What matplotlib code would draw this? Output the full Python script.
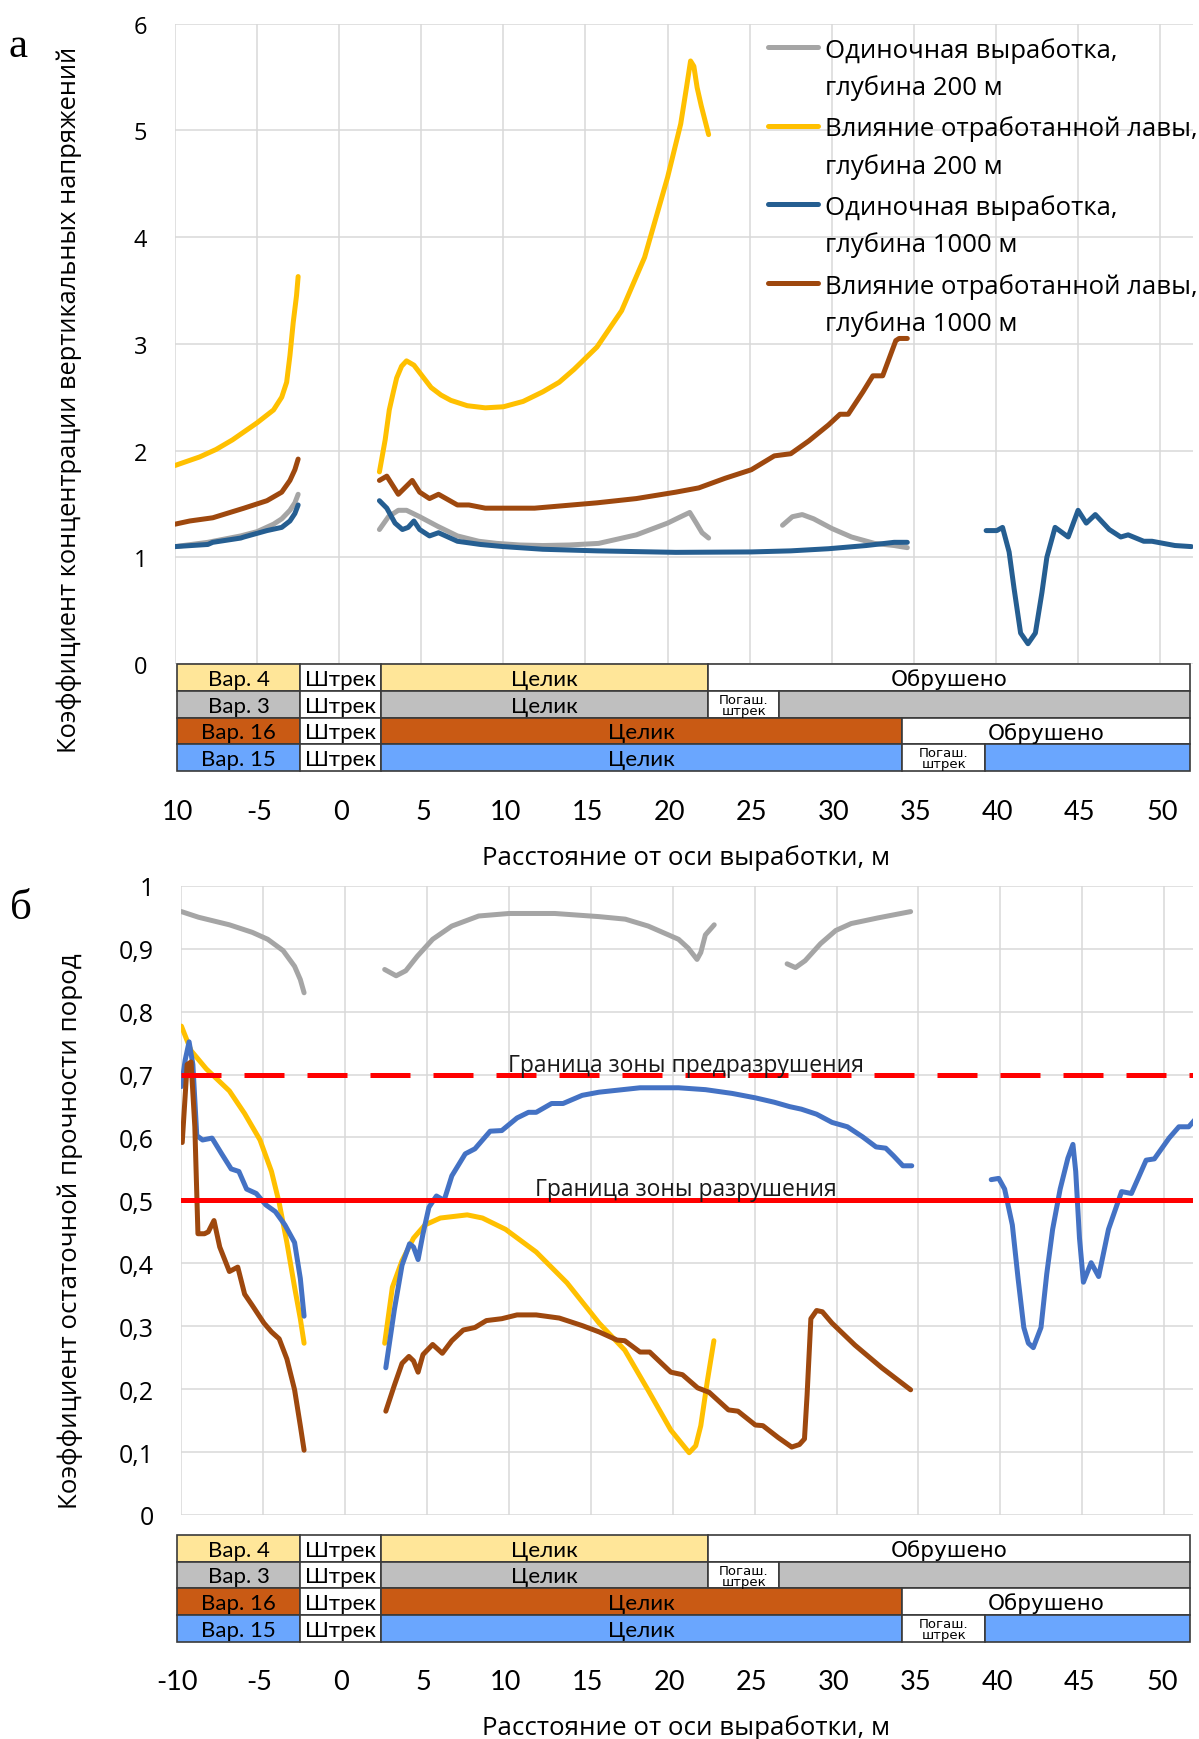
import numpy as np
import matplotlib
matplotlib.use("Agg")
import matplotlib.pyplot as plt
from matplotlib.lines import Line2D
from matplotlib.patches import Rectangle

W, H = 1199, 1740
GAP = np.nan

# ---------- panel a: stress concentration factor ----------
a_gray_x = [-10, -8, -6, -5, -4, -3.5, -3, -2.7, -2.5, GAP,
            2.45, 3.0, 3.6, 4.1, 4.9, 6.0, 7.2, 8.5, 9.6, 11, 12.4, 14, 15.8, 18.1, 20, 20.8, 21.35,
            21.75, 22.1, 22.5, GAP,
            27.0, 27.6, 28.2, 28.9, 30.0, 31.2, 32.6, 33.8, 34.6]
a_gray_y = [1.10, 1.14, 1.20, 1.24, 1.31, 1.36, 1.44, 1.51, 1.59, GAP,
            1.26, 1.38, 1.44, 1.44, 1.38, 1.29, 1.20, 1.15, 1.13, 1.115, 1.11, 1.115, 1.13, 1.21, 1.32,
            1.38, 1.42, 1.32, 1.23, 1.18, GAP,
            1.30, 1.38, 1.40, 1.36, 1.27, 1.19, 1.13, 1.11, 1.09]

a_yellow_x = [-10, -8.5, -7.5, -6.5, -5, -4, -3.5, -3.2, -3.0, -2.8, -2.6, -2.5, GAP,
              2.45, 2.8, 3.05, 3.3, 3.5, 3.8, 4.1, 4.55, 5.0, 5.6, 6.2, 6.8, 7.8, 8.9, 10.0, 11.2,
              12.4, 13.4, 14.3, 15.7, 17.2, 18.6, 20.0, 20.8, 21.15, 21.4, 21.6, 21.8, 22.05, 22.5]
a_yellow_y = [1.86, 1.94, 2.01, 2.10, 2.26, 2.38, 2.50, 2.64, 2.89, 3.20, 3.45, 3.63, GAP,
              1.80, 2.10, 2.38, 2.55, 2.68, 2.79, 2.84, 2.80, 2.71, 2.59, 2.52, 2.47, 2.42, 2.40,
              2.41, 2.46, 2.55, 2.64, 2.76, 2.97, 3.31, 3.81, 4.56, 5.06, 5.40, 5.65, 5.60, 5.40,
              5.23, 4.96]

a_blue_x = [-10, -8, -7.7, -6, -5.8, -4.4, -3.5, -3.0, -2.7, -2.5, GAP,
            2.45, 2.9, 3.4, 3.85, 4.2, 4.55, 4.9, 5.5, 6.05, 7.2, 8.6, 10.0, 12.4, 15.7, 20.5, 25.1,
            27.5, 29.8, 32.1, 33.8, 34.6, GAP,
            39.4, 40.05, 40.4, 40.8, 41.1, 41.5, 41.95, 42.4, 42.8, 43.1, 43.6, 44.4, 45.0, 45.5,
            46.05, 46.9, 47.6, 48.05, 49.0, 49.5, 50.9, 51.9]
a_blue_y = [1.10, 1.12, 1.14, 1.18, 1.19, 1.25, 1.28, 1.34, 1.41, 1.49, GAP,
            1.53, 1.46, 1.32, 1.26, 1.28, 1.34, 1.26, 1.20, 1.23, 1.15, 1.12, 1.10, 1.075, 1.06,
            1.046, 1.05, 1.06, 1.08, 1.11, 1.14, 1.14, GAP,
            1.25, 1.25, 1.28, 1.05, 0.71, 0.29, 0.19, 0.29, 0.67, 1.00, 1.28, 1.19, 1.44, 1.32,
            1.40, 1.26, 1.19, 1.21, 1.15, 1.15, 1.11, 1.10]

a_brown_x = [-10, -9.1, -7.7, -5.8, -4.4, -3.5, -3.0, -2.7, -2.5, GAP,
             2.45, 2.9, 3.6, 4.45, 4.9, 5.5, 6.05, 7.2, 7.9, 8.9, 11.9, 15.7, 18.1, 20.5, 21.9,
             23.5, 25.1, 26.5, 27.5, 28.6, 29.8, 30.5, 31.0, 31.9, 32.5, 33.1, 33.9, 34.1, 34.6]
a_brown_y = [1.31, 1.34, 1.37, 1.46, 1.53, 1.61, 1.72, 1.82, 1.92, GAP,
             1.72, 1.76, 1.59, 1.72, 1.61, 1.55, 1.59, 1.49, 1.49, 1.46, 1.46, 1.51, 1.55, 1.61,
             1.65, 1.74, 1.82, 1.95, 1.97, 2.09, 2.24, 2.34, 2.34, 2.55, 2.70, 2.70, 3.03, 3.05,
             3.05]

# ---------- panel b: residual strength factor ----------
b_gray_x = [-10, -8.95, -7.07, -5.67, -4.73, -3.79, -3.09, -2.74, -2.51, GAP,
            2.41, 3.11, 3.7, 4.4, 5.34, 6.51, 8.15, 10.0, 12.8, 15.5, 17.1, 18.5, 20.35, 20.94,
            21.48, 21.71, 21.99, 22.53, GAP,
            26.98, 27.49, 28.08, 29.02, 29.95, 30.89, 32.53, 34.52]
b_gray_y = [0.959, 0.950, 0.938, 0.926, 0.915, 0.897, 0.872, 0.851, 0.830, GAP,
            0.867, 0.857, 0.865, 0.888, 0.915, 0.936, 0.952, 0.956, 0.956, 0.951, 0.947, 0.936,
            0.915, 0.901, 0.883, 0.894, 0.922, 0.938, GAP,
            0.876, 0.870, 0.881, 0.908, 0.929, 0.940, 0.949, 0.959]

b_yellow_x = [-10, -9.41, -8.48, -7.07, -6.14, -5.2, -4.5, -4.03, -3.56, -3.09, -2.74, -2.51, GAP,
              2.41, 2.88, 3.47, 4.17, 4.87, 5.81, 7.45, 8.38, 9.79, 11.66, 13.54, 15.5, 17.07,
              18.48, 19.88, 21.0, 21.4, 21.71, 22.11, 22.51]
b_yellow_y = [0.777, 0.738, 0.709, 0.674, 0.638, 0.596, 0.546, 0.496, 0.433, 0.362, 0.312, 0.273, GAP,
              0.273, 0.362, 0.404, 0.440, 0.461, 0.472, 0.477, 0.472, 0.454, 0.418, 0.369, 0.305,
              0.262, 0.199, 0.135, 0.099, 0.110, 0.142, 0.213, 0.277]

b_blue_x = [-10, -9.77, -9.53, -9.3, -9.06, -8.71, -8.13, -7.54, -6.96, -6.49, -6.02, -5.43,
            -4.85, -4.26, -3.68, -3.09, -2.74, -2.51, GAP,
            2.48, 3.0, 3.47, 3.93, 4.17, 4.45, 4.75, 5.11, 5.57, 6.04, 6.51, 7.33, 7.92, 8.85,
            9.56, 10.49, 11.19, 11.66, 12.6, 13.3, 14.47, 15.5, 18.0, 20.35, 22.0, 23.63, 25.04,
            26.2, 27.14, 27.85, 28.78, 29.72, 30.66, 31.59, 32.41, 33.0, 33.47, 34.05, 34.59, GAP,
            39.44, 39.9, 40.26, 40.73, 41.08, 41.43, 41.71, 42.01, 42.48, 42.83, 43.19, 43.65,
            44.12, 44.43, 44.6, 44.83, 45.07, 45.54, 46.0, 46.6, 47.4, 48.0, 48.9, 49.4, 50.3,
            50.9, 51.5, 51.97]
b_blue_y = [0.681, 0.723, 0.752, 0.716, 0.603, 0.596, 0.599, 0.574, 0.550, 0.546, 0.518, 0.511,
            0.493, 0.482, 0.461, 0.433, 0.376, 0.316, GAP,
            0.234, 0.326, 0.397, 0.431, 0.426, 0.406, 0.447, 0.489, 0.507, 0.500, 0.539, 0.574,
            0.582, 0.610, 0.611, 0.631, 0.640, 0.640, 0.654, 0.654, 0.667, 0.672, 0.679, 0.679,
            0.676, 0.670, 0.663, 0.656, 0.649, 0.645, 0.637, 0.624, 0.617, 0.601, 0.585, 0.583,
            0.571, 0.555, 0.555, GAP,
            0.533, 0.535, 0.518, 0.461, 0.376, 0.298, 0.273, 0.266, 0.298, 0.383, 0.454, 0.518,
            0.567, 0.589, 0.546, 0.440, 0.370, 0.401, 0.379, 0.454, 0.514, 0.511, 0.564, 0.566,
            0.599, 0.617, 0.617, 0.631]

b_brown_x = [-9.95, -9.65, -9.41, -9.18, -8.99, -8.59, -8.36, -8.01, -7.66, -7.07, -6.56, -6.14,
             -5.67, -4.96, -4.5, -4.03, -3.56, -3.09, -2.74, -2.51, GAP,
             2.48, 3.0, 3.47, 3.89, 4.17, 4.45, 4.75, 5.34, 5.93, 6.51, 7.21, 7.92, 8.62, 9.56,
             10.49, 11.66, 13.07, 14.47, 15.5, 16.6, 17.07, 18.0, 18.59, 19.88, 20.59, 21.52,
             22.22, 23.4, 23.98, 25.04, 25.5, 26.44, 27.26, 27.73, 28.04, 28.2, 28.43, 28.78,
             29.13, 29.72, 31.12, 32.76, 34.52]
b_brown_y = [0.592, 0.716, 0.720, 0.617, 0.447, 0.447, 0.450, 0.468, 0.426, 0.387, 0.394, 0.351,
             0.333, 0.305, 0.291, 0.280, 0.248, 0.199, 0.142, 0.103, GAP,
             0.165, 0.206, 0.241, 0.252, 0.245, 0.227, 0.255, 0.271, 0.257, 0.277, 0.294, 0.298,
             0.309, 0.312, 0.318, 0.318, 0.313, 0.301, 0.291, 0.278, 0.277, 0.259, 0.259, 0.227,
             0.223, 0.202, 0.195, 0.167, 0.165, 0.143, 0.142, 0.123, 0.108, 0.112, 0.121, 0.191,
             0.312, 0.325, 0.323, 0.305, 0.270, 0.234, 0.199]

pre_failure_level = 0.7
failure_level = 0.5

legend_labels = [("Одиночная выработка,", "глубина 200 м"),
                 ("Влияние отработанной лавы,", "глубина 200 м"),
                 ("Одиночная выработка,", "глубина 1000 м"),
                 ("Влияние отработанной лавы,", "глубина 1000 м")]

a_yticks = [0, 1, 2, 3, 4, 5, 6]
b_yticks = [0, 0.1, 0.2, 0.3, 0.4, 0.5, 0.6, 0.7, 0.8, 0.9, 1.0]
b_yticklabels = ["0", "0,1", "0,2", "0,3", "0,4", "0,5", "0,6", "0,7", "0,8", "0,9", "1"]
xticks = list(range(-10, 51, 5))
a_xticklabels = ["10"] + [str(v) for v in xticks[1:]]
b_xticklabels = [str(v) for v in xticks]

# rock state table below each panel (bounds in metres)
row_names = ["Вар. 4", "Вар. 3", "Вар. 16", "Вар. 15"]
row_colors = ["#FFE699", "#BFBFBF", "#C95A14", "#6AA6FE"]
row_cells = [
    [(-2.5, 2.4, "Штрек", "w"), (2.4, 22.35, "Целик", "c"), (22.35, 51.7, "Обрушено", "w")],
    [(-2.5, 2.4, "Штрек", "w"), (2.4, 22.35, "Целик", "c"), (22.35, 26.7, "Погаш.\nштрек", "w"),
     (26.7, 51.7, "", "c")],
    [(-2.5, 2.4, "Штрек", "w"), (2.4, 34.2, "Целик", "c"), (34.2, 51.7, "Обрушено", "w")],
    [(-2.5, 2.4, "Штрек", "w"), (2.4, 34.2, "Целик", "c"), (34.2, 39.25, "Погаш.\nштрек", "w"),
     (39.25, 51.7, "", "c")],
]

colors_a = ["#A5A5A5", "#FFC000", "#255E91", "#9E480E"]
colors_b = ["#A5A5A5", "#FFC000", "#4472C4", "#9E480E"]

plt.rcParams["font.family"] = ["Open Sans", "DejaVu Sans"]
TABLE_FONT = ["Lato", "Open Sans", "DejaVu Sans"]
LW = 3.6


def box(left, top, right, bottom):
    return [left / W, 1 - bottom / H, (right - left) / W, (bottom - top) / H]


def setup_main(ax, xmax, ymax, yticks, yticklabels, ysize):
    ax.set_xlim(-10, xmax)
    ax.set_ylim(0, ymax)
    ax.set_xticks(xticks)
    ax.set_yticks(yticks)
    ax.set_yticklabels(yticklabels)
    ax.tick_params(axis="x", length=0, labelbottom=False)
    ax.tick_params(axis="y", length=0, pad=20, labelsize=ysize)
    ax.grid(True, color="#D9D9D9", lw=1.1)
    ax.set_axisbelow(True)
    for s in ax.spines.values():
        s.set_visible(False)


def draw_table(tab, ticklabels):
    tab.set_xlim(-10, 51.9)
    tab.set_ylim(4, 0)
    tab.set_yticks([])
    tab.set_xticks(xticks)
    tab.set_xticklabels(ticklabels, family=TABLE_FONT)
    tab.tick_params(axis="x", length=0, pad=20, labelsize=19.5)
    for s in tab.spines.values():
        s.set_visible(False)
    for r, name in enumerate(row_names):
        cells = [(-10, -2.5, name, "c")] + row_cells[r]
        for x0, x1, txt, kind in cells:
            fc = row_colors[r] if kind == "c" else "white"
            tab.add_patch(Rectangle((x0, r), x1 - x0, 1, facecolor=fc, edgecolor="#3A3A3A",
                                    lw=1.2, clip_on=False))
            if not txt:
                continue
            if "\n" in txt:
                tab.text((x0 + x1) / 2, r + 0.52, txt, ha="center", va="center", fontsize=9.5,
                         family="DejaVu Sans", linespacing=0.8)
            elif txt == "Обрушено":
                tab.text((x0 + x1) / 2, r + 0.55, txt, ha="center", va="center", fontsize=15.5,
                         family="DejaVu Sans")
            else:
                tab.text((x0 + x1) / 2, r + 0.55, txt, ha="center", va="center", fontsize=16,
                         family=TABLE_FONT)


fig = plt.figure(figsize=(W / 100, H / 100), dpi=100)

ax_a = fig.add_axes(box(175, 24.6, 1193, 665))
tab_a = fig.add_axes(box(177, 665, 1193, 772.3))
ax_b = fig.add_axes(box(181.4, 886.8, 1193, 1516))
tab_b = fig.add_axes(box(177, 1536, 1193, 1642.7))

setup_main(ax_a, 52, 6, a_yticks, [str(v) for v in a_yticks], 17)
setup_main(ax_b, 51.76, 1.0, b_yticks, b_yticklabels, 18)

series_a = [(a_gray_x, a_gray_y), (a_yellow_x, a_yellow_y), (a_blue_x, a_blue_y), (a_brown_x, a_brown_y)]
for (xs, ys), c in zip(series_a, colors_a):
    ax_a.plot(xs, ys, color=c, lw=LW, solid_capstyle="round", solid_joinstyle="round")

series_b = [(b_gray_x, b_gray_y), (b_yellow_x, b_yellow_y), (b_blue_x, b_blue_y), (b_brown_x, b_brown_y)]
for (xs, ys), c in zip(series_b, colors_b):
    ax_b.plot(xs, ys, color=c, lw=LW, solid_capstyle="round", solid_joinstyle="round")

ax_b.axhline(pre_failure_level, color="#FF0000", lw=3.6, dashes=(8, 4.6), zorder=4)
ax_b.axhline(failure_level, color="#FF0000", lw=3.6, zorder=4)
ax_b.text(20.8, pre_failure_level + 0.006, "Граница зоны предразрушения", ha="center",
          va="baseline", fontsize=16.5, color="#1A1A1A", zorder=6)
ax_b.text(20.8, failure_level + 0.008, "Граница зоны разрушения", ha="center",
          va="baseline", fontsize=16.5, color="#1A1A1A", zorder=6)

draw_table(tab_a, a_xticklabels)
draw_table(tab_b, b_xticklabels)

# legend of panel a, handle aligned to the first text line
for i, (l1, l2) in enumerate(legend_labels):
    yc = 48 + i * 78.7
    fig.add_artist(Line2D([768 / W, 818 / W], [1 - yc / H] * 2, color=colors_a[i], lw=LW,
                          solid_capstyle="round"))
    fig.text(825 / W, 1 - (yc + 9.5) / H, l1, fontsize=18.5, va="baseline")
    fig.text(825 / W, 1 - (yc + 47) / H, l2, fontsize=18.5, va="baseline")

fig.text(69 / W, 1 - 400 / H, "Коэффициент концентрации вертикальных напряжений",
         rotation=90, ha="center", va="center", fontsize=18.4)
fig.text(70 / W, 1 - 1231 / H, "Коэффициент остаточной прочности пород",
         rotation=90, ha="center", va="center", fontsize=18.6)
fig.text(686 / W, 1 - 858 / H, "Расстояние от оси выработки, м", ha="center", va="center",
         fontsize=18.6)
fig.text(686 / W, 1 - 1728 / H, "Расстояние от оси выработки, м", ha="center", va="center",
         fontsize=18.6)
fig.text(18 / W, 1 - 47 / H, "а", ha="center", va="center", fontsize=31, family="Liberation Serif")
fig.text(21 / W, 1 - 909 / H, "б", ha="center", va="center", fontsize=31, family="Liberation Serif")

fig.savefig("out.png", dpi=100)
